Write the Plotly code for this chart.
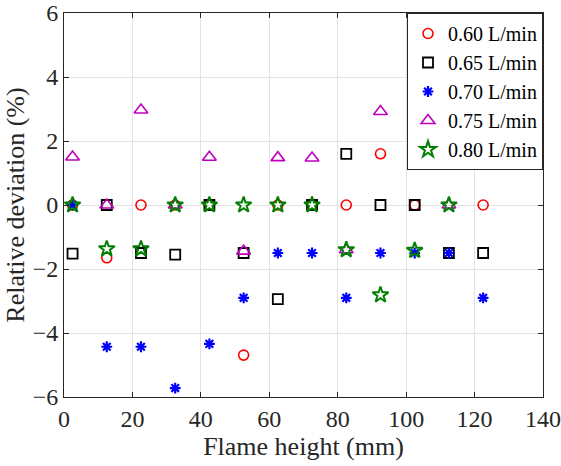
import plotly.graph_objects as go

heights = [2.5, 12.5, 22.5, 32.5, 42.5, 52.5, 62.5, 72.5, 82.5, 92.5, 102.5, 112.5, 122.5]

dev_060 = [0, -1.65, 0, 0, 0, -4.69, 0, 0, 0, 1.6, 0, 1.62, 0]
dev_065 = [-1.52, 0, -1.5, -1.55, 0, -1.5, -2.94, 0, 1.6, 0, 0, -1.5, -1.5]
dev_070 = [0, -4.43, -4.43, -5.72, -4.34, -2.9, -1.5, -1.5, -2.9, -1.5, -1.5, -1.5, -2.9]
dev_075 = [1.5, 0, 2.97, 0, 1.49, -1.44, 1.48, 1.47, -1.4, 2.92, 1.47, 0, 1.47]
dev_080 = [0, -1.37, -1.37, 0, 0, 0, 0, 0, -1.4, -2.81, -1.42, 0, 1.43]

labels = ["0.60 L/min", "0.65 L/min", "0.70 L/min", "0.75 L/min", "0.80 L/min"]

FONT = "Liberation Serif"
TXT = "#262626"

fig = go.Figure()
fig.add_trace(go.Scatter(x=heights, y=dev_060, mode="markers", name=labels[0],
                         marker=dict(symbol="circle-open", size=10, color="#ff0000",
                                     line=dict(width=1.6, color="#ff0000"))))
fig.add_trace(go.Scatter(x=heights, y=dev_065, mode="markers", name=labels[1],
                         marker=dict(symbol="square-open", size=10, color="#000000",
                                     line=dict(width=1.8, color="#000000"))))
fig.add_trace(go.Scatter(x=heights, y=dev_070, mode="markers", name=labels[2],
                         marker=dict(symbol="asterisk-open", size=9, color="#0000ff",
                                     line=dict(width=2.2, color="#0000ff"))))
fig.add_trace(go.Scatter(x=heights, y=dev_075, mode="markers", name=labels[3],
                         marker=dict(symbol="triangle-up-open", size=12, color="#bf00bf",
                                     line=dict(width=1.6, color="#bf00bf"))))
fig.add_trace(go.Scatter(x=heights, y=dev_080, mode="markers", name=labels[4],
                         marker=dict(symbol="star-open", size=12, color="#008000",
                                     line=dict(width=2, color="#008000"))))

axis_common = dict(
    showline=True, linecolor=TXT, linewidth=1, mirror="ticks",
    ticks="inside", ticklen=5, tickcolor=TXT, tickwidth=1,
    showgrid=True, gridcolor="#e3e3e3", gridwidth=1,
    zeroline=False, automargin=False,
    tickfont=dict(family=FONT, size=24, color=TXT),
)

fig.update_xaxes(range=[0, 140], tickvals=[0, 20, 40, 60, 80, 100, 120, 140],
                 title=dict(text="Flame height (mm)", font=dict(family=FONT, size=26, color=TXT), standoff=4),
                 **axis_common)
fig.update_yaxes(range=[-6, 6], tickvals=[-6, -4, -2, 0, 2, 4, 6],
                 title=dict(text="Relative deviation (%)", font=dict(family=FONT, size=26, color=TXT), standoff=0),
                 **axis_common)

fig.update_layout(
    width=561, height=466,
    margin=dict(l=64, r=18, t=13, b=69),
    plot_bgcolor="white", paper_bgcolor="white",
    font=dict(family=FONT, color=TXT),
    legend=dict(x=1, xanchor="right", y=1, yanchor="top",
                bgcolor="white", bordercolor=TXT, borderwidth=1,
                font=dict(family=FONT, size=20, color="#000000")),
    showlegend=True,
)

fig.write_html("out.html")
